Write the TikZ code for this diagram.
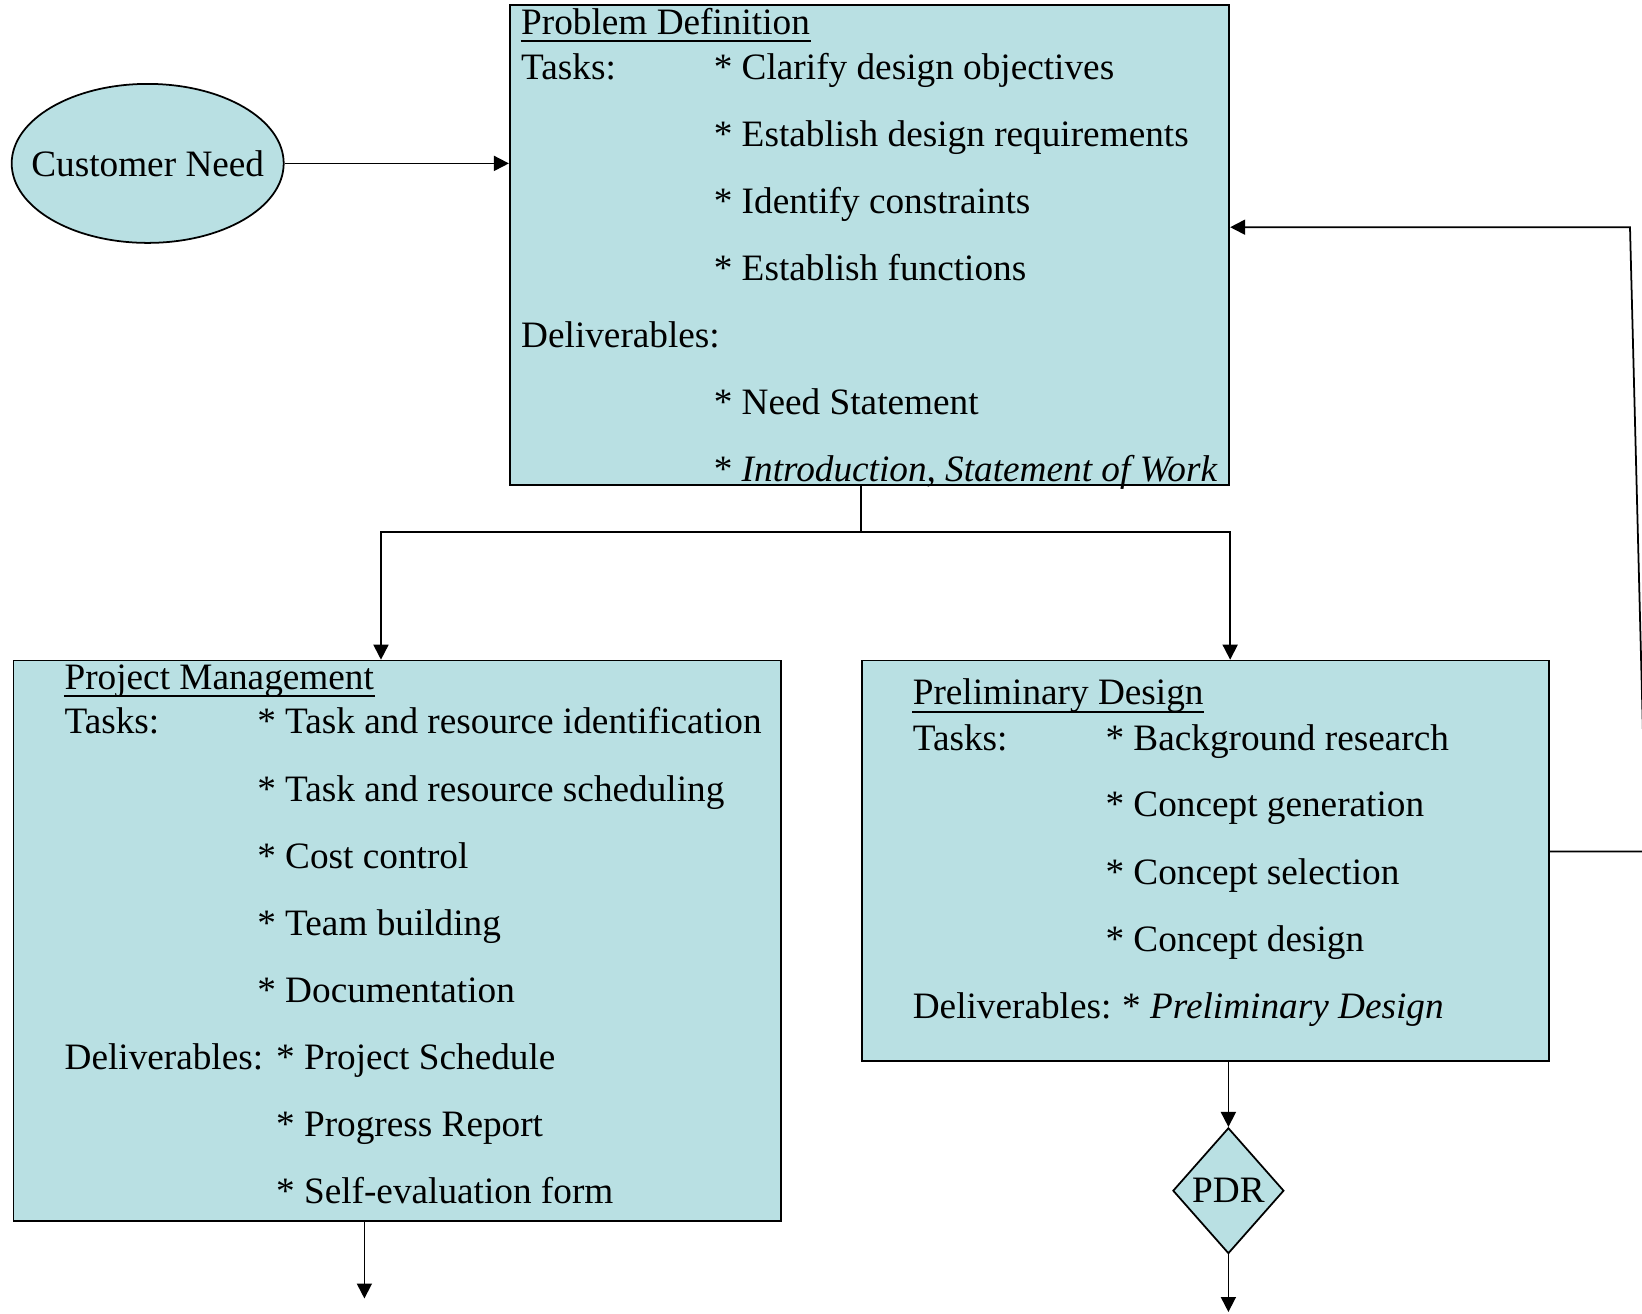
\documentclass[tikz,border=0pt]{standalone}
\usepackage{fontspec}
\setmainfont{Liberation Serif}
\usetikzlibrary{shapes.geometric,arrows.meta}
\definecolor{boxfill}{RGB}{185,224,227}
\tikzset{
	blk/.style={draw=black,line width=0.5pt,fill=boxfill,inner sep=0pt},
	txt/.style={anchor=base west,inner sep=0pt},
	arr/.style={line width=0.5pt,-{Triangle[length=1.5mm,width=1.5mm]}},
	ln/.style={line width=0.5pt}
}
\begin{document}
\begin{tikzpicture}[font=\fontsize{10.6}{12.7}\selectfont]
	\useasboundingbox (0,0) rectangle (16.42,-13.14);
	
	\node[blk,ellipse,minimum width=2.72cm,minimum height=1.59cm,label={center:Customer Need}] (cn) at (1.477,-1.634) {};
	\node[blk,anchor=north west,minimum width=7.195cm,minimum height=4.796cm] (pd) at (5.089,-0.042) {};
	\node[blk,anchor=north west,minimum width=7.676cm,minimum height=5.603cm] (pm) at (0.126,-6.597) {};
	\node[blk,anchor=north west,minimum width=6.870cm,minimum height=4.001cm] (prd) at (8.608,-6.597) {};
	\node[blk,diamond,minimum width=1.11cm,minimum height=1.257cm] (pdr) at (12.284,-11.907) {PDR};
	
	\node[txt] (pdtitle) at (5.205,-0.345) {Problem Definition};
	\node[txt] (pdtasks) at (5.205,-0.80) {Tasks:};
	\node[txt] (pdt1) at (7.131,-0.80) {* Clarify design objectives};
	\node[txt] (pdt2) at (7.131,-1.47) {* Establish design requirements};
	\node[txt] (pdt3) at (7.131,-2.14) {* Identify constraints};
	\node[txt] (pdt4) at (7.131,-2.81) {* Establish functions};
	\node[txt] (pddel) at (5.205,-3.48) {Deliverables:};
	\node[txt] (pdd1) at (7.131,-4.15) {* Need Statement};
	\node[txt] (pdd2) at (7.131,-4.82) {* \textit{Introduction, Statement of Work}};
	
	\node[txt] (pmtitle) at (0.639,-6.89) {Project Management};
	\node[txt] (pmtasks) at (0.639,-7.34) {Tasks:};
	\node[txt] (pmt1) at (2.566,-7.34) {* Task and resource identification};
	\node[txt] (pmt2) at (2.566,-8.01) {* Task and resource scheduling};
	\node[txt] (pmt3) at (2.566,-8.68) {* Cost control};
	\node[txt] (pmt4) at (2.566,-9.35) {* Team building};
	\node[txt] (pmt5) at (2.566,-10.02) {* Documentation};
	\node[txt] (pmdel) at (0.639,-10.69) {Deliverables:};
	\node[txt] (pmd1) at (2.754,-10.69) {* Project Schedule};
	\node[txt] (pmd2) at (2.754,-11.36) {* Progress Report};
	\node[txt] (pmd3) at (2.754,-12.03) {* Self-evaluation form};
	
	\node[txt] (prdtitle) at (9.121,-7.05) {Preliminary Design};
	\node[txt] (prdtasks) at (9.121,-7.50) {Tasks:};
	\node[txt] (prdt1) at (11.048,-7.50) {* Background research};
	\node[txt] (prdt2) at (11.048,-8.17) {* Concept generation};
	\node[txt] (prdt3) at (11.048,-8.84) {* Concept selection};
	\node[txt] (prdt4) at (11.048,-9.51) {* Concept design};
	\node[txt] (prddel) at (9.121,-10.18) {Deliverables:};
	\node[txt] (prdd1) at (11.215,-10.18) {* \textit{Preliminary Design}};
	
	\draw[ln] ([yshift=-1.9pt]pdtitle.base west) -- ([yshift=-1.9pt]pdtitle.base east);
	\draw[ln] ([yshift=-1.9pt]pmtitle.base west) -- ([yshift=-1.9pt]pmtitle.base east);
	\draw[ln] ([yshift=-1.9pt]prdtitle.base west) -- ([yshift=-1.9pt]prdtitle.base east);
	
	\coordinate (split) at (8.608,-5.320);
	\coordinate (pmout) at (3.644,-12.985);
	\coordinate (pdrout) at (12.284,-13.12);
	\coordinate (fb1) at (16.46,-8.514);
	\coordinate (fb2) at (16.30,-2.272);
	
	\draw[arr] (cn.east) -- (cn.east -| pd.west);
	\draw[ln] (pd.south -| split) -- (split);
	\draw[arr] (split) -| ([xshift=-0.163cm]pm.north);
	\draw[arr] (split) -| (pd.east |- prd.north);
	\draw[arr] (prd.south -| pdr) -- (pdr.north);
	\draw[arr] (pdr.south) -- (pdrout);
	\draw[arr] (pm.south -| pmout) -- (pmout);
	\draw[arr] (prd.east |- fb1) -- (fb1) -- (fb2) -- (fb2 -| pd.east);
	
\end{tikzpicture}
\end{document}
